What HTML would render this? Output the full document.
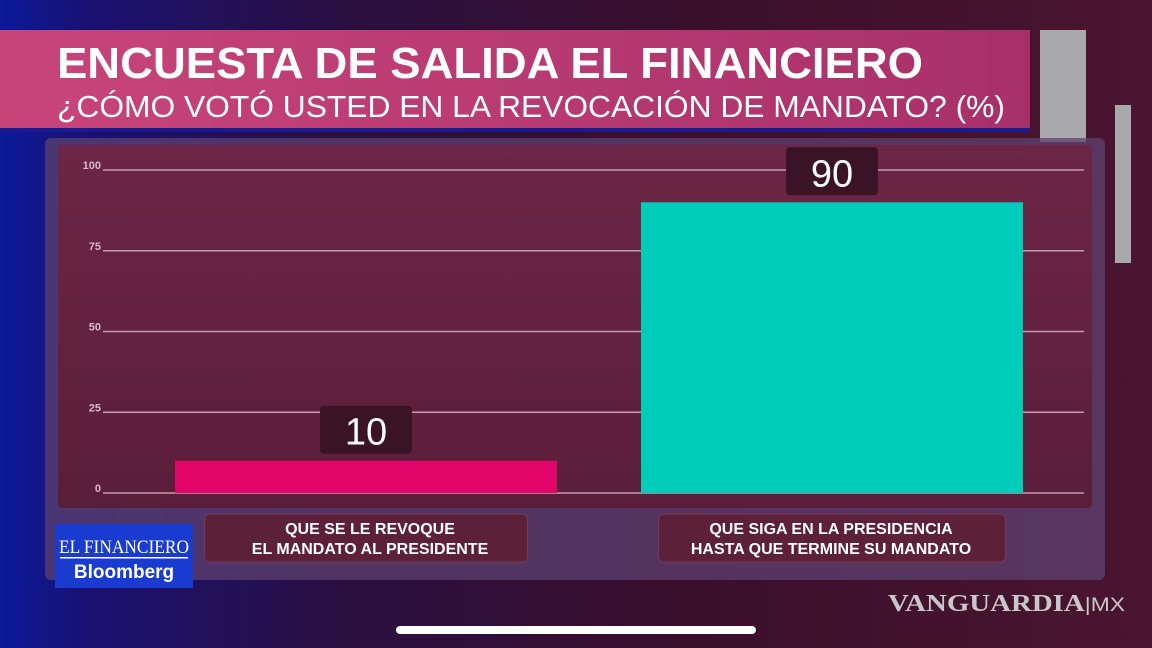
<!DOCTYPE html>
<html><head><meta charset="utf-8"><style>
body{margin:0;width:1152px;height:648px;overflow:hidden;font-family:"Liberation Sans",sans-serif;}
#bg{position:absolute;left:0;top:0;width:1152px;height:648px;background:linear-gradient(90deg,#0b1a9a 0%,#1a1070 8%,#2a0f40 30%,#3a0f2c 60%,#4a1530 100%);}
</style></head><body>
<div id="bg"></div>
<svg width="1152" height="648" style="position:absolute;left:0;top:0">
<defs><linearGradient id="ban" x1="0" x2="1"><stop offset="0" stop-color="#c8457a"/><stop offset="1" stop-color="#a8306a"/></linearGradient>
<linearGradient id="pa" x1="0" y1="0" x2="0" y2="1"><stop offset="0" stop-color="#6c2646"/><stop offset="1" stop-color="#5a1e3a"/></linearGradient></defs>
<rect x="1040" y="30" width="46" height="112" fill="#a9a9ad"/>
<rect x="1115" y="105" width="16" height="158" fill="#a9a9ad"/>
<rect x="0" y="30" width="1030" height="100" fill="url(#ban)"/>
<rect x="0" y="128" width="1030" height="4" fill="#1a1a8a"/>
<text x="57" y="78" font-size="44" font-weight="bold" fill="#fff" textLength="866" lengthAdjust="spacingAndGlyphs">ENCUESTA DE SALIDA EL FINANCIERO</text>
<text x="57" y="117" font-size="31" fill="#fff" textLength="948" lengthAdjust="spacingAndGlyphs">¿CÓMO VOTÓ USTED EN LA REVOCACIÓN DE MANDATO? (%)</text>
<rect x="45" y="138" width="1060" height="442" rx="6" fill="#5e4270" opacity="0.75"/>
<rect x="58" y="145" width="1034" height="363" rx="4" fill="url(#pa)"/>
<g id="grid"></g><g id="bars"></g><g id="cats"></g>
<rect x="55" y="524" width="138" height="64" fill="#1a3bd0"/>
<text x="124" y="553" font-family="Liberation Serif,serif" font-size="19" fill="#fff" text-anchor="middle" textLength="130" lengthAdjust="spacingAndGlyphs">EL FINANCIERO</text>
<rect x="60" y="557" width="128" height="1.5" fill="#fff"/>
<text x="124" y="578" font-size="19" font-weight="bold" fill="#fff" text-anchor="middle">Bloomberg</text>
<rect x="396" y="626" width="360" height="8" rx="4" fill="#fff"/>
<text x="888" y="611" font-family="Liberation Serif,serif" font-size="24" font-weight="bold" fill="#c8c8c8" textLength="237" lengthAdjust="spacingAndGlyphs">VANGUARDIA<tspan font-weight="normal" font-family="Liberation Sans,sans-serif" font-size="19">|MX</tspan></text>
</svg>
<script>
const ticks=[0,25,50,75,100];
const categories=[["QUE SE LE REVOQUE","EL MANDATO AL PRESIDENTE"],["QUE SIGA EN LA PRESIDENCIA","HASTA QUE TERMINE SU MANDATO"]];
const values=[10,90];
const colors=["#e3046a","#00cdb9"];
const NS="http://www.w3.org/2000/svg";
const y=v=>493-v*3.23;
const cx=i=>366+i*466;
function el(t,a,p,txt){const e=document.createElementNS(NS,t);for(const k in a)e.setAttribute(k,a[k]);if(txt!=null)e.textContent=txt;document.getElementById(p).appendChild(e);return e;}
ticks.forEach(t=>{
 const l=el('line',{x1:103,x2:1084,y1:y(t),y2:y(t),stroke:'#c89ab0','stroke-width':1.5},'grid');
 
 
 const tx=el('text',{x:101,y:y(t)-1,'font-size':11,'font-weight':'bold',fill:'#d8b8c8','text-anchor':'end'},'grid',t);
 
 
});
values.forEach((v,i)=>{
 const b=el('rect',{x:cx(i)-191,y:y(v),width:382,height:493-y(v),fill:colors[i]},'bars');
 
 
 const bx=el('rect',{x:cx(i)-46,y:y(v)-55,width:92,height:48,rx:4,fill:'#3a1424'},'bars');
 
 
 const t=el('text',{x:cx(i),y:y(v)-16,'font-size':38,fill:'#fff','text-anchor':'middle'},'bars',v);
 
 
 const w=i==0?323:347;
 const cb=el('rect',{x:cx(i)-w/2,y:514,width:w,height:48,rx:5,fill:'#5c2038',stroke:'#7a3a55'},'cats');
 
 
 categories[i].forEach((s,j)=>{
  const c=el('text',{x:cx(i)+(i==0?4:-1),y:534+j*20,'font-size':16,'font-weight':'bold',fill:'#fff','text-anchor':'middle'},'cats',s);
  
  
 });
});
</script>
</body></html>
